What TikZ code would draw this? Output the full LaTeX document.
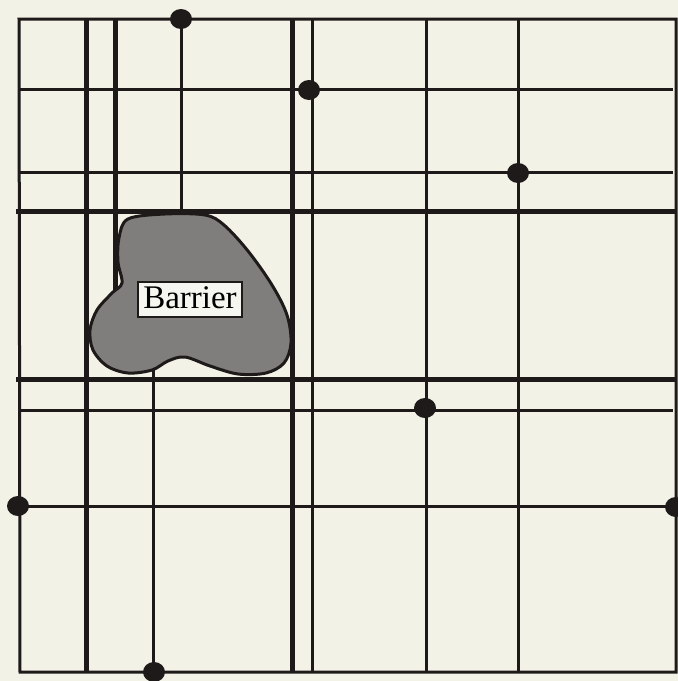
\documentclass[tikz,border=0pt]{standalone}
\usepackage{fontspec}
\setmainfont{Liberation Serif}
\usetikzlibrary{shapes.geometric}
\definecolor{bg}{RGB}{242,242,231}
\definecolor{ink}{RGB}{30,26,26}
\definecolor{blobfill}{RGB}{128,126,124}
\definecolor{labelbg}{RGB}{246,246,240}
\begin{document}
\begin{tikzpicture}[x=1pt,y=-1pt,
  gridthin/.style={draw=ink,line width=3pt},
  gridthick/.style={draw=ink,line width=5pt},
  dot/.style={ellipse,fill=ink,inner sep=0pt,minimum width=22pt,minimum height=20pt},
  label box/.style={draw=ink,line width=1.6pt,fill=labelbg,inner xsep=5pt,inner ysep=0pt,
     text height=26pt,text depth=9pt,font=\fontsize{33}{36}\selectfont,anchor=base}]
\fill[bg] (0,0) rectangle (678,681);
\useasboundingbox (0,0) rectangle (678,681);
% frame
\draw[gridthin] (19,19) -- (676,19) -- (676,672) -- (20,672) -- cycle;
% vertical lines
\draw[gridthick] (86,19) -- (86,672);
\draw[gridthick] (115,19) -- (115,320);
\draw[gridthin] (181,19) -- (181,211);
\draw[gridthin] (153,350) -- (153,672);
\draw[gridthick] (292,19) -- (292,672);
\draw[gridthin] (312,19) -- (312,672);
\draw[gridthin] (426,19) -- (426,672);
\draw[gridthin] (518,19) -- (518,672);
% horizontal lines
\draw[gridthin] (19,89) -- (673,89);
\draw[gridthin] (19,172) -- (673,172);
\draw[gridthick] (16,211) -- (676,211);
\draw[gridthick] (16,379) -- (676,379);
\draw[gridthin] (19,410) -- (673,410);
\draw[gridthin] (18,506) -- (676,506);
% barrier
\draw[ink,line width=3pt,fill=blobfill] plot[smooth cycle,tension=0.55] coordinates {
 (128,219) (165,214) (205,215) (224,225) (248,251) (272,285) (287,315) (291,343)
 (284,363) (266,373) (238,374) (210,366) (185,357) (168,361) (152,370) (128,373)
 (107,366) (93,350) (90,330) (97,310) (112,293) (122,283) (118,262) (119,238)};
\node[label box] (barrier) at (190,308) {Barrier};
% dots
\node[dot] (d1) at (181,19) {};
\node[dot] (d2) at (309,90) {};
\node[dot] (d3) at (518,173) {};
\node[dot] (d4) at (425,408) {};
\node[dot] (d5) at (18,506) {};
\node[dot] (d6) at (676,507) {};
\node[dot] (d7) at (154,672) {};
\end{tikzpicture}
\end{document}
